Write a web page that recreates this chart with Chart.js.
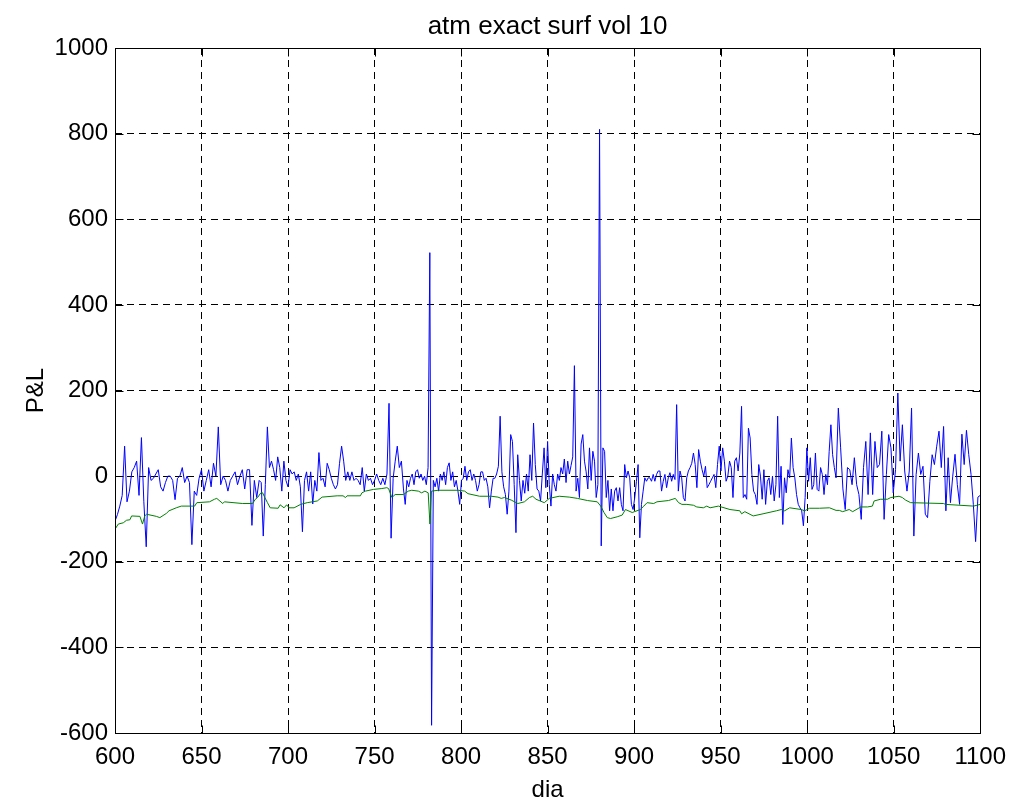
<!DOCTYPE html>
<html>
<head>
<meta charset="utf-8">
<title>atm exact surf vol 10</title>
<script src="https://cdn.jsdelivr.net/npm/chart.js@4.4.1/dist/chart.umd.min.js"></script>
<style>
  html, body { margin: 0; padding: 0; background: #fff; }
  canvas { display: block; }
</style>
</head>
<body>
<canvas id="plChart" width="1016" height="805"></canvas>
<script>
// axis ticks
var X_TICKS = [600, 650, 700, 750, 800, 850, 900, 950, 1000, 1050, 1100];
var Y_TICKS = [-600, -400, -200, 0, 200, 400, 600, 800, 1000];

// blue P&L in pieces; each piece spreads evenly over its day range
var BLUE_BREAKS = [600, 683.3, 766.7, 850, 933.3, 1016.7, 1100];
var blue1 = [-105, -90, -70, -45, 70, -60, -35, 10, 20, 35, -45, 90, -60, -165, 20, -10, -5, 5, 15, -25,
             -35, -15, 0, 0, -10, -55, -5, 0, 20, -15, 0, -15, -160, -35, -45, -5, 15, -35, -10, 15,
             -25, 30, 0, 115, -20, 0, -10, -35, -10, 0, 10, -20, 0, 15, -30, 15, 15, -115, -10, -50];
var blue2 = [-10, -15, -140, -20, 115, 20, 35, 15, -10, 45, 20, -35, 35, -10, -25, 15, 5, 10, -10, 5,
             -25, -130, -10, 10, -35, 10, -65, -10, -35, 55, -10, -5, -25, 30, 15, -5, -20, -30, -20, 30,
             70, 35, -10, 10, -10, 10, -10, -5, -10, -20, 20, -35, 5, -10, -5, -20, -10, 5, -10, -20,
             -5, -20, 5, 170, -145, -5, 35, 70, 20, 35];
var blue3 = [-30, -66, -10, -25, -5, 5, -20, 10, 15, -5, 5, -10, 0, -20, 20, 522, -582, -10, -25, -5,
             -35, 5, -10, 10, -20, 20, 31, -10, 10, -25, -10, -35, -66, -10, -5, 23, -10, 10, 15, -10,
             5, -10, -35, -20, 10, 10, -10, -5, -25, -74, -35, -5, -5, 5, 23, 140, 10, -25, -43, -89,
             -35, 97, 81, -20, -132, 50, -10, -58, -10, -40, 5, -35, 50, -10, 124, 27, -30, -35, -58, 5,
             66, -27];
var blue4 = [81, -20, -70, 5, -20, -35, 5, -10, 20, 5, 40, -15, 35, 5, 25, 45, 258, -35, -5, -50,
             75, 97, 35, 10, -30, 66, -10, 58, 35, -50, -20, 810, -163, 66, 58, -50, -10, -81, -30, -81,
             -35, -27, -58, -27, -66, -81, 27, -4, 12, -4, -66, -78, -50, -12, 27, -144, -66, -35, -4, -12,
             -4, -4, -12, 4, -12, 4, 12, 12, -35, -12, 4, -27, -4, 8, -12, 4, -8, 167, -35, 12,
             -4, -50, -58, -4, 12, 20];
var blue5 = [30, 54, 27, -27, 62, 35, 15, 0, 23, -27, -20, -12, -4, 4, -27, 27, 70, 12, 66, 35,
             -12, 0, 35, 20, -50, 35, 43, 12, 54, 163, -50, -43, -54, 112, 89, 4, -35, -43, -66, 27,
             0, -54, 15, -66, -12, -4, -43, 0, -58, -20, 140, -50, 23, -113, -4, -39, 15, -4, 89, 20,
             -4, -43, -66, -74, -81, -116, -50, 66, -12, 43, -31, -20, 54, -31, -35, 20, 4, -43, 4, -20,
             58, 120, 50, 20];
var blue6 = [-4, 159, 66, -30, -78, 20, 15, -20, 43, -20, -43, -101, 20, 81, -43, 101, -43, 81, 20, 27,
             105, -101, 4, 97, 66, -39, 15, 194, 35, 120, 12, -35, 12, 159, -140, 4, 54, 4, 23, -89,
             -97, -12, 50, 27, 70, 105, 20, 116, -81, 43, -62, 0, 51, -20, -66, 98, 27, 107, 50, 4,
             -66, -153, -49, -45];

// green P&L (smooth one), day / value pairs
var GREEN_DAYS = [600, 601.9, 604.8, 606.7, 608.6, 609.6, 614.4, 615.9, 617.2, 618.2, 623.9, 625.9, 629.7, 631.2,
  635.4, 638.3, 646, 647.3, 654.6, 657.5, 658.8, 662.3, 663.2, 673.8, 679.5, 681.1,
  682.4, 684.3, 685.3, 686.6, 688.1, 689.7, 694.3, 695.4, 697.7, 699.2, 700.6, 703.5, 707.3, 711.1,
  716.9, 719.7, 728.4, 731.8, 733.2, 734.1, 741.8, 742.7, 744.7, 749.4, 754.2, 757.1, 758.1, 760,
  761.9, 766.7, 769.5, 771.5, 775.3, 777.2, 779.1, 781, 782, 782.9, 786.8, 798.3, 802.1, 804,
  810.7, 817.4, 821.3, 823.2, 825.1, 829, 832.8, 836.6, 839.5, 841.4, 843.3, 848.1,
  851, 856.7, 862.5, 867.2, 873, 878.7, 880.7, 882.6, 884.5, 886.4, 890.2, 893.1, 895, 898.9,
  903.6, 905.6, 907.5, 911.3, 913.2, 919.9, 923.8, 925.7, 927.6, 930.5,
  934.3, 936.2, 940, 942, 943.9, 948.7, 955.4, 961.1, 962.1, 964, 968.8, 974.5, 982.2, 985.1,
  987, 989.9, 996.6, 998.5, 1001.4, 1007.1, 1012.9, 1016.7,
  1018.6, 1020.5, 1024.3, 1026.3, 1031, 1034.9, 1037.7, 1038.7, 1042.5, 1046.4, 1048.3, 1053.1,
  1055, 1056.9, 1059.8, 1078.9, 1079.9, 1096.2, 1100];
var GREEN_PNL = [-124, -112, -109, -103, -102, -93, -94, -112, -93, -89, -94, -97, -87, -81,
  -74, -70, -70, -62, -60, -54, -52, -64, -60, -64, -64, -54,
  -50, -39, -39, -50, -62, -74, -75, -67, -74, -67, -74, -74, -66, -62,
  -58, -49, -46, -46, -50, -46, -46, -39, -35, -31, -29, -27, -29, -50,
  -43, -43, -35, -33, -35, -39, -35, -39, -112, -35, -33, -33, -35, -41,
  -47, -47, -49, -52, -50, -56, -64, -60, -50, -47, -54, -62,
  -52, -47, -49, -52, -57, -60, -70, -85, -97, -99, -95, -91, -78, -85,
  -78, -70, -62, -64, -60, -57, -52, -62, -66, -66,
  -68, -72, -74, -70, -74, -70, -78, -81, -88, -83, -93, -88, -81, -78,
  -81, -74, -78, -81, -75, -75, -74, -80,
  -80, -83, -78, -83, -72, -72, -70, -58, -54, -54, -50, -47,
  -50, -56, -62, -64, -66, -70, -66];

var bluePieces = [blue1, blue2, blue3, blue4, blue5, blue6];
var bluePoints = [];
bluePieces.forEach(function (vals, k) {
  var a = BLUE_BREAKS[k], b = BLUE_BREAKS[k + 1];
  var last = k === bluePieces.length - 1;
  var step = (b - a) / (last ? vals.length - 1 : vals.length);
  vals.forEach(function (v, i) { bluePoints.push({ x: a + i * step, y: v }); });
});
var greenPoints = GREEN_DAYS.map(function (d, i) { return { x: d, y: GREEN_PNL[i] }; });

Chart.defaults.font.family = "'Liberation Sans', Arial, sans-serif";
Chart.defaults.color = '#000';

var TICK_LEN = 8;

// matlab style box with inward ticks on all four sides
var boxPlugin = {
  id: 'box',
  afterDatasetsDraw: function (chart) {
    var ctx = chart.ctx;
    var xs = chart.scales.x, ys = chart.scales.y;
    // same half-pixel snapping as the grid lines so the box sits on them
    var snap = function (p) { return Math.round(p) + 0.5; };
    var L = snap(xs.getPixelForValue(X_TICKS[0])), R = snap(xs.getPixelForValue(X_TICKS[X_TICKS.length - 1]));
    var B = snap(ys.getPixelForValue(Y_TICKS[0])), T = snap(ys.getPixelForValue(Y_TICKS[Y_TICKS.length - 1]));
    ctx.save();
    ctx.strokeStyle = '#000';
    ctx.lineWidth = 1;
    ctx.setLineDash([]);
    ctx.strokeRect(L, T, R - L, B - T);
    ctx.beginPath();
    X_TICKS.forEach(function (v) {
      var px = snap(xs.getPixelForValue(v));
      ctx.moveTo(px, B); ctx.lineTo(px, B - TICK_LEN);
      ctx.moveTo(px, T); ctx.lineTo(px, T + TICK_LEN);
    });
    Y_TICKS.forEach(function (v) {
      var py = snap(ys.getPixelForValue(v));
      ctx.moveTo(L, py); ctx.lineTo(L + TICK_LEN, py);
      ctx.moveTo(R, py); ctx.lineTo(R - TICK_LEN, py);
    });
    ctx.stroke();
    ctx.restore();
  }
};

function plain(v) { return String(v); }

new Chart(document.getElementById('plChart').getContext('2d'), {
  type: 'line',
  data: {
    datasets: [
      // green listed first so it is painted over the blue one
      { label: 'green', data: greenPoints, borderColor: '#008000', borderWidth: 1,
        pointRadius: 0, tension: 0, fill: false, borderJoinStyle: 'bevel' },
      { label: 'blue', data: bluePoints, borderColor: '#0000ff', borderWidth: 1,
        pointRadius: 0, tension: 0, fill: false, borderJoinStyle: 'bevel' }
    ]
  },
  options: {
    responsive: false,
    animation: false,
    events: [],
    layout: { padding: { left: 0, right: 33, top: 0, bottom: 0 } },
    plugins: {
      legend: { display: false },
      tooltip: { enabled: false },
      title: {
        display: true,
        fullSize: false,
        text: 'atm exact surf vol 10',
        color: '#000',
        font: { size: 26, weight: 'normal' },
        padding: { top: 11, bottom: 5.8 }
      }
    },
    scales: {
      x: {
        type: 'linear',
        min: 600, max: 1100,
        afterBuildTicks: function (s) { s.ticks = X_TICKS.map(function (v) { return { value: v }; }); },
        afterFit: function (s) { s.height = 72; },
        grid: { color: '#000', drawTicks: false, lineWidth: 1 },
        border: { display: false, dash: [7, 5] },
        ticks: { font: { size: 24 }, padding: 10, maxRotation: 0, autoSkip: false, callback: plain },
        title: { display: true, text: 'dia', font: { size: 24 }, padding: { top: 0, bottom: 0 } }
      },
      y: {
        type: 'linear',
        min: -600, max: 1000,
        afterBuildTicks: function (s) { s.ticks = Y_TICKS.map(function (v) { return { value: v }; }); },
        afterFit: function (s) { s.width = 115; },
        grid: { color: '#000', drawTicks: false, lineWidth: 1 },
        border: { display: false, dash: [7, 5] },
        ticks: { font: { size: 24 }, padding: 7, autoSkip: false, callback: plain },
        title: { display: true, text: 'P&L', font: { size: 24 }, padding: { top: 22, bottom: 0 } }
      }
    }
  },
  plugins: [boxPlugin]
});
</script>
</body>
</html>
